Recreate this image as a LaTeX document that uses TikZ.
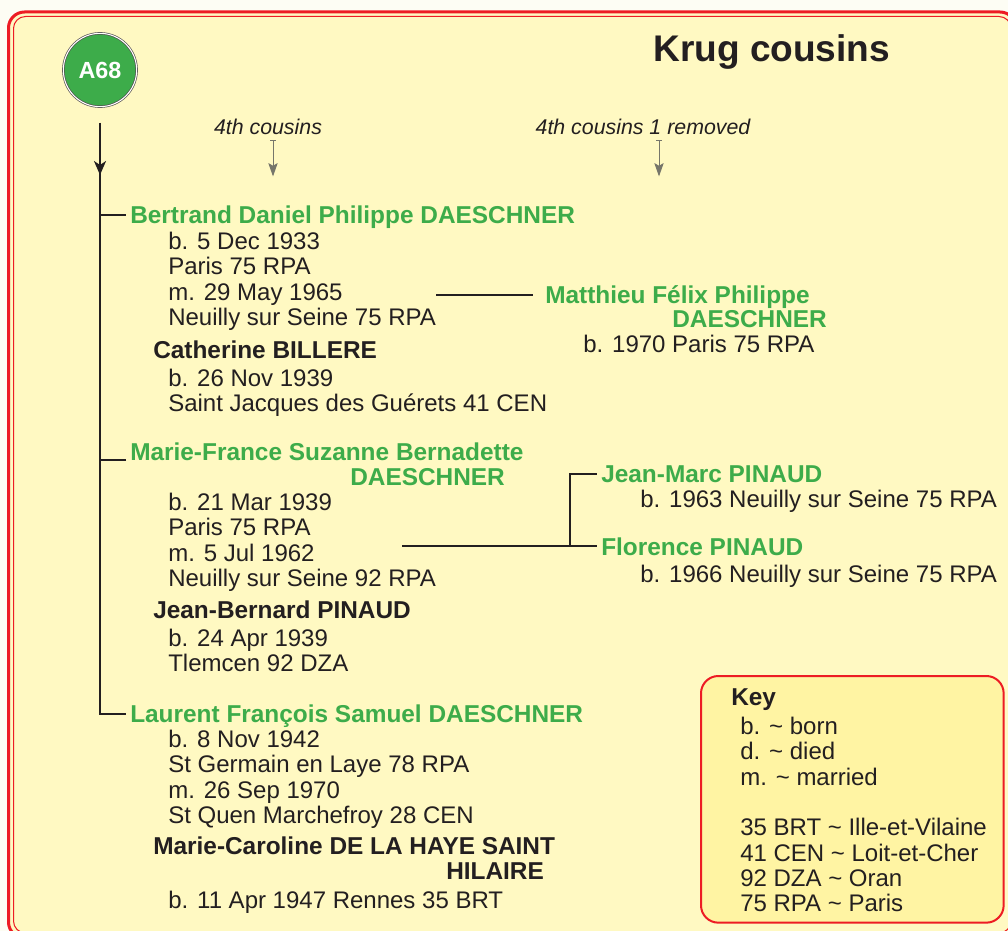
\documentclass[tikz,border=0pt]{standalone}
\usepackage{fontspec}
\setmainfont{Liberation Sans}
\usetikzlibrary{positioning, arrows.meta}

\definecolor{pagebg}{HTML}{FDFDF4}
\definecolor{framefill}{HTML}{FFF9C2}
\definecolor{keyfill}{HTML}{FFF4A3}
\definecolor{framered}{HTML}{ED1C24}
\definecolor{kingreen}{HTML}{3DAC4A}
\definecolor{inkdark}{HTML}{231F20}
\definecolor{arrowgray}{HTML}{76766A}
\newcommand{\bodyfont}{\fontsize{18pt}{19pt}\selectfont}
\newcommand{\namefont}{\fontsize{18.3pt}{19pt}\selectfont\bfseries}

\begin{document}
\begin{tikzpicture}[x=0.75pt, y=-0.75pt,
        ancestor/.style={circle, fill=kingreen, draw=inkdark!80, double=white, double distance=0.8pt,
            line width=0.5pt, minimum size=55pt, inner sep=0pt, text=white,
            font=\fontsize{17.5pt}{19pt}\selectfont\bfseries},
        kin/.style={anchor=west, font=\namefont, text=kingreen, inner xsep=3pt, inner ysep=0pt,
            text height=13pt, text depth=0pt},
        spouse/.style={kin, text=inkdark},
        facts/.style={anchor=north west, font=\bodyfont, text=inkdark, align=left, inner sep=0pt},
        genlabel/.style={font=\fontsize{16pt}{18pt}\selectfont\itshape, text=inkdark, inner sep=0pt},
        genarrow/.style={arrowgray, line width=0.75pt, {Bar[width=4pt]}-{Stealth[length=10pt, width=7pt, inset=2pt]}},
        trunk/.style={inkdark, line width=1.6pt},
        link/.style={inkdark, line width=1.6pt},
        keybox/.style={anchor=north west, draw=framered, line width=1.5pt, fill=keyfill, rounded corners=13pt,
            minimum width=227pt, minimum height=185pt}
    ]
    \useasboundingbox (0,0) rectangle (1008,931);
    \fill[pagebg] (0,0) rectangle (1008,931);
    \begin{scope}
        \clip (0,0) rectangle (1008,931);
        \draw[framered, line width=2.25pt, fill=framefill, rounded corners=12pt] (8.5,12) rectangle (1016,938);
        \draw[framered, line width=0.75pt, rounded corners=9pt] (13.5,16.5) rectangle (1011,933);
    \end{scope}

    % header
    \node[ancestor] (A68) at (100,70) {A68};
    \node[anchor=west, inner sep=0pt, text=inkdark, font=\fontsize{27.8pt}{30pt}\selectfont\bfseries,
        text height=19.9pt, text depth=0pt] (title) at (653,48) {Krug cousins};
    \node[genlabel] (gen4) at (268,127) {4th cousins};
    \node[genlabel] (gen4r) at (643,127) {4th cousins 1 removed};
    \draw[genarrow] ([xshift=3.75pt,yshift=-4pt]gen4.south) -- ++(0,36);
    \draw[genarrow] ([xshift=12pt,yshift=-4pt]gen4r.south) -- ++(0,36);

    % Bertrand
    \node[kin] (bertrand) at (126,215) {Bertrand Daniel Philippe DAESCHNER};
    \node[facts] (bfacts) at (168,232) {b. 5 Dec 1933\\Paris 75 RPA\\m. 29 May 1965\\Neuilly sur Seine 75 RPA};
    \node[spouse] (catherine) at (149,350) {Catherine BILLERE};
    \node[facts] (cfacts) at (168,369) {b. 26 Nov 1939\\Saint Jacques des Guérets 41 CEN};
    \node[kin] (matthieu) at (541,295) {Matthieu Félix Philippe};
    \node[kin] (matthieu2) at (668,319) {DAESCHNER};
    \node[facts] (mtfacts) at (583,335) {b. 1970 Paris 75 RPA};

    % Marie-France
    \node[kin] (mf) at (126,452) {Marie-France Suzanne Bernadette};
    \node[kin] (mf2) at (346,477) {DAESCHNER};
    \node[facts] (mffacts) at (168,493) {b. 21 Mar 1939\\Paris 75 RPA\\m. 5 Jul 1962\\Neuilly sur Seine 92 RPA};
    \node[spouse] (jeanbernard) at (149,610) {Jean-Bernard PINAUD};
    \node[facts] (jbfacts) at (168,629) {b. 24 Apr 1939\\Tlemcen 92 DZA};
    \node[kin] (jeanmarc) at (597,474) {Jean-Marc PINAUD};
    \node[facts] (jmfacts) at (640,490) {b. 1963 Neuilly sur Seine 75 RPA};
    \node[kin] (florence) at (597,547) {Florence PINAUD};
    \node[facts] (flfacts) at (640,565) {b. 1966 Neuilly sur Seine 75 RPA};

    % Laurent
    \node[kin] (laurent) at (126,714) {Laurent François Samuel DAESCHNER};
    \node[facts] (lfacts) at (168,730) {b. 8 Nov 1942\\St Germain en Laye 78 RPA\\m. 26 Sep 1970\\St Quen Marchefroy 28 CEN};
    \node[spouse] (mc) at (149,846) {Marie-Caroline DE LA HAYE SAINT};
    \node[spouse] (mc2) at (442,871) {HILAIRE};
    \node[facts] (mcfacts) at (168,891) {b. 11 Apr 1947 Rennes 35 BRT};

    % lines
    \draw[trunk] (A68.south) ++(0,16) coordinate (trunktop) |- (laurent.west);
    \draw[trunk, -{Stealth[length=10.5pt, width=9pt, inset=3pt]}] (trunktop) -- ++(0,52);
    \draw[trunk] (trunktop |- bertrand.west) -- (bertrand.west);
    \draw[trunk] ([yshift=-6pt]mf.west) coordinate (mftick) -- (trunktop |- mftick);
    \draw[link, shorten >=6pt] (bfacts.east |- matthieu.west) -- (matthieu.west);
    \coordinate (mfwed) at (402,546);
    \coordinate (pinfork) at (570,546);
    \draw[link] (mfwed) -- (florence.west |- mfwed);
    \draw[link] (pinfork) |- (jeanmarc.west);

    % key
    \node[keybox] (key) at (700,675) {};
    \node[spouse] (keyhead) at (727,697) {Key};
    \node[facts] (keylist) at (740,717) {b. \textasciitilde{} born\\d. \textasciitilde{} died\\m. \textasciitilde{} married\\[19pt]35 BRT \textasciitilde{} Ille-et-Vilaine\\41 CEN \textasciitilde{} Loit-et-Cher\\92 DZA \textasciitilde{} Oran\\75 RPA \textasciitilde{} Paris};
\end{tikzpicture}
\end{document}
